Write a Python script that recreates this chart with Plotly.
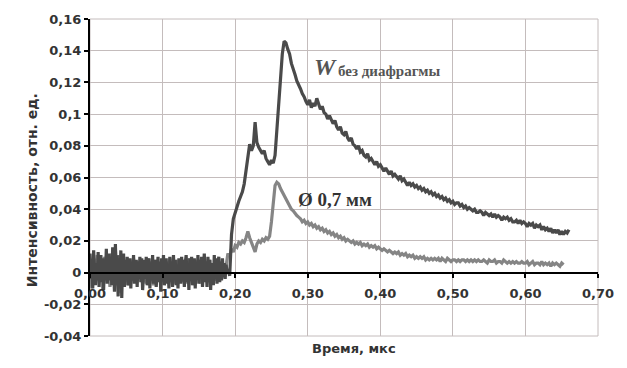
import plotly.graph_objects as go

# sampling steps of the oscilloscope record, µs
STEP_NOISE = 0.00125   # dark-curve baseline part (t < 0.19)
STEP = 0.0025          # everything else
T_SIGNAL = 0.19        # start of the signal part

# W без диафрагмы — baseline noise, t = 0 ... 0.18875 (step 0.00125)
dark_noise = [
    0.012, -0.004, 0.008, -0.010, 0.014, 0.002, -0.008, 0.006,
    -0.003, 0.013, -0.009, 0.005, 0.011, -0.006, 0.009, -0.011,
    0.007, -0.002, 0.015, -0.007, 0.004, 0.012, -0.005, 0.010,
    -0.008, 0.016, 0.003, -0.012, 0.018, -0.004, 0.011, -0.015,
    0.009, -0.006, 0.014, -0.016, 0.006, 0.012, -0.009, 0.008,
    -0.004, 0.010, -0.008, 0.003, 0.009, -0.010, 0.006, -0.002,
    0.011, -0.007, 0.004, 0.008, -0.009, 0.007, -0.003, 0.010,
    -0.006, 0.009, -0.011, 0.005, 0.008, -0.004, 0.010, -0.008,
    0.003, 0.009, -0.010, 0.006, -0.005, 0.011, -0.007, 0.004,
    0.008, -0.009, 0.002, 0.010, -0.006, 0.007, -0.012, 0.009,
    -0.003, 0.011, -0.008, 0.005, 0.009, -0.007, 0.003, -0.010,
    0.010, -0.004, 0.007, -0.009, 0.011, -0.002, 0.008, -0.008,
    0.005, -0.010, 0.009, 0.002, -0.007, 0.010, -0.005, 0.008,
    -0.009, 0.006, 0.011, -0.006, 0.004, -0.011, 0.009, -0.003,
    0.010, -0.008, 0.005, 0.009, -0.010, 0.007, -0.004, 0.011,
    -0.007, 0.008, -0.003, 0.010, -0.009, 0.006, 0.012, -0.006,
    0.004, -0.009, 0.010, -0.005, 0.008, -0.011, 0.006, 0.002,
    -0.008, 0.011, -0.004, 0.009, -0.007, 0.005, 0.010, -0.006,
    0.007, -0.005, 0.009, -0.003, 0.006, -0.004, 0.005, 0.001,
]

# W без диафрагмы — signal, from t = 0.19 (step 0.0025)
dark_signal = [
    0.002, -0.002, 0.024, 0.034, 0.038, 0.042, 0.045, 0.048, 0.051, 0.056,
    0.064, 0.074, 0.081, 0.077, 0.080, 0.095, 0.082, 0.079, 0.077, 0.075,
    0.077, 0.072, 0.070, 0.068, 0.071, 0.069, 0.074, 0.090, 0.108, 0.124,
    0.138, 0.146, 0.145, 0.141, 0.138, 0.132, 0.129, 0.125, 0.121, 0.119,
    0.116, 0.113, 0.111, 0.108, 0.106, 0.109, 0.104, 0.107, 0.105, 0.110,
    0.106, 0.103, 0.105, 0.101, 0.100, 0.097, 0.099, 0.096, 0.094, 0.096,
    0.092, 0.090, 0.092, 0.088, 0.087, 0.089, 0.085, 0.083, 0.085, 0.081,
    0.080, 0.078, 0.080, 0.076, 0.077, 0.074, 0.073, 0.075, 0.071, 0.072,
    0.070, 0.068, 0.070, 0.067, 0.068, 0.066, 0.064, 0.066, 0.064, 0.062,
    0.064, 0.061, 0.062, 0.060, 0.059, 0.061, 0.058, 0.059, 0.057, 0.055,
    0.057, 0.055, 0.056, 0.054, 0.055, 0.053, 0.054, 0.052, 0.053, 0.051,
    0.052, 0.050, 0.051, 0.049, 0.050, 0.048, 0.049, 0.047, 0.048, 0.046,
    0.047, 0.045, 0.046, 0.044,
    0.045, 0.043, 0.044, 0.044, 0.042, 0.043, 0.041, 0.042, 0.040, 0.041,
    0.040, 0.039, 0.040, 0.038, 0.038, 0.039, 0.038, 0.036, 0.038, 0.037,
    0.036, 0.037, 0.035, 0.037, 0.035, 0.036, 0.035, 0.033, 0.035, 0.034,
    0.035, 0.033, 0.034, 0.032, 0.032, 0.033, 0.031, 0.033, 0.031, 0.032,
    0.031, 0.029, 0.031, 0.030, 0.031, 0.028, 0.030, 0.029, 0.030, 0.027,
    0.029, 0.027, 0.028, 0.026, 0.028, 0.025, 0.027, 0.025, 0.027, 0.024,
    0.026, 0.024, 0.026, 0.025, 0.027,
]

# Ø 0,7 мм — whole record from t = 0 (step 0.0025)
light = [
    0.006, -0.010, 0.009, -0.007, 0.011, -0.005, 0.008, -0.011, 0.010, -0.004,
    0.008, -0.009, 0.012, -0.006, 0.014, -0.008, 0.011, -0.013, 0.009, -0.006,
    0.006, -0.008, 0.008, -0.005, 0.009, -0.006, 0.007, -0.004, 0.008, -0.007,
    0.006, -0.007, 0.009, -0.004, 0.007, -0.008, 0.008, -0.005, 0.006, -0.006,
    0.008, -0.006, 0.007, -0.005, 0.009, -0.006, 0.006, -0.007, 0.008, -0.005,
    0.007, -0.006, 0.008, -0.007, 0.009, -0.005, 0.007, -0.006, 0.008, -0.004,
    0.006, -0.007, 0.009, -0.004, 0.007, -0.006, 0.008, -0.004, 0.006, -0.005,
    0.005, -0.003, 0.004, -0.001,
    0.001, 0.004, 0.012, 0.010, 0.015, 0.013, 0.017, 0.016, 0.019, 0.018,
    0.020, 0.019, 0.022, 0.026, 0.022, 0.019, 0.016, 0.013, 0.018, 0.020,
    0.019, 0.021, 0.020, 0.022, 0.021, 0.023, 0.032, 0.046, 0.055, 0.057,
    0.056, 0.053, 0.051, 0.049, 0.046, 0.044, 0.042, 0.040, 0.039, 0.037,
    0.036, 0.035, 0.034, 0.032,
    0.033, 0.031, 0.032, 0.030, 0.031, 0.029, 0.030, 0.028, 0.029, 0.027,
    0.028, 0.026, 0.027, 0.025, 0.026, 0.024, 0.025, 0.023, 0.024, 0.022,
    0.023, 0.021, 0.022, 0.020, 0.021, 0.020, 0.019, 0.020, 0.018, 0.019,
    0.018, 0.019, 0.017, 0.018, 0.017, 0.018, 0.016, 0.017, 0.016, 0.017,
    0.015, 0.016, 0.015, 0.014, 0.015, 0.014, 0.013, 0.014, 0.013, 0.012,
    0.013, 0.012, 0.013, 0.011, 0.012, 0.011, 0.012, 0.010, 0.011, 0.010,
    0.011, 0.009, 0.010, 0.009, 0.010, 0.009, 0.010, 0.008, 0.009, 0.008,
    0.009, 0.008, 0.009,
    0.008, 0.009, 0.007, 0.009, 0.008, 0.007, 0.009, 0.008, 0.007, 0.008,
    0.008, 0.007, 0.008, 0.007, 0.008, 0.008, 0.007, 0.008, 0.007, 0.008,
    0.007, 0.008, 0.007, 0.008, 0.007, 0.007, 0.008, 0.007, 0.006, 0.008,
    0.007, 0.007, 0.008, 0.006, 0.007, 0.007, 0.006, 0.008, 0.007, 0.006,
    0.007, 0.006, 0.007, 0.006, 0.007, 0.006, 0.006, 0.007, 0.006, 0.006,
    0.007, 0.005, 0.006, 0.007, 0.005, 0.006, 0.006, 0.005, 0.007, 0.005,
    0.006, 0.005, 0.006, 0.004, 0.006, 0.005, 0.006, 0.005, 0.004, 0.006,
    0.005,
]

t_dark = ([round(i * STEP_NOISE, 5) for i in range(len(dark_noise))] +
          [round(T_SIGNAL + i * STEP, 5) for i in range(len(dark_signal))])
dark = dark_noise + dark_signal
t_light = [round(i * STEP, 5) for i in range(len(light))]

x_ticks = [0.0, 0.1, 0.2, 0.3, 0.4, 0.5, 0.6, 0.7]
x_labels = ["0,00", "0,10", "0,20", "0,30", "0,40", "0,50", "0,60", "0,70"]
y_ticks = [-0.04, -0.02, 0, 0.02, 0.04, 0.06, 0.08, 0.1, 0.12, 0.14, 0.16]
y_labels = ["-0,04", "-0,02", "0", "0,02", "0,04", "0,06", "0,08", "0,1",
            "0,12", "0,14", "0,16"]

GRID = "#c4bcbc"
TICKFONT = dict(family="DejaVu Sans", size=13, color="#333333", weight="bold")

fig = go.Figure()
fig.add_trace(go.Scatter(x=t_light, y=light, mode="lines",
                         line=dict(color="#858585", width=3.2), name="Ø 0,7 мм"))
fig.add_trace(go.Scatter(x=t_dark, y=dark, mode="lines",
                         line=dict(color="#4a4a4a", width=3.2),
                         name="W без диафрагмы"))

fig.update_layout(
    width=627, height=368,
    margin=dict(l=90, r=29, t=14, b=32),
    paper_bgcolor="white", plot_bgcolor="white",
    showlegend=False,
    xaxis=dict(range=[0, 0.7], tickvals=x_ticks, ticktext=x_labels,
               showgrid=True, gridcolor=GRID, gridwidth=1,
               showline=True, linecolor="black", linewidth=2,
               ticks="outside", ticklen=4, tickwidth=1.5, tickcolor="black",
               anchor="free", position=0.2, zeroline=False,
               tickfont=TICKFONT, ticklabelstandoff=5),
    yaxis=dict(range=[-0.04, 0.16], tickvals=y_ticks, ticktext=y_labels,
               showgrid=True, gridcolor=GRID, gridwidth=1,
               showline=True, linecolor="black", linewidth=2,
               ticks="outside", ticklen=4, tickwidth=1.5, tickcolor="black",
               zeroline=False, tickfont=TICKFONT),
    shapes=[
        dict(type="rect", xref="paper", yref="paper", x0=0, x1=1, y0=0, y1=1,
             line=dict(color=GRID, width=1), layer="below"),
    ],
    annotations=[
        dict(x=0.3248, y=0.1296, xref="x", yref="y", showarrow=False,
             text="<b><i>W</i></b>",
             font=dict(family="Liberation Serif", size=24, color="#555555")),
        dict(x=0.4124, y=0.1275, xref="x", yref="y", showarrow=False,
             text="<b>без диафрагмы</b>",
             font=dict(family="Liberation Serif", size=15, color="#555555")),
        dict(x=0.338, y=0.0463, xref="x", yref="y", showarrow=False,
             text="<b>Ø 0,7 мм</b>",
             font=dict(family="Liberation Serif", size=19, color="#333333")),
        dict(x=-0.134, y=0.4596, xref="paper", yref="paper", showarrow=False,
             textangle=-90, text="<b>Интенсивность, отн. ед.</b>",
             font=dict(family="DejaVu Sans", size=14, color="#333333")),
        dict(x=0.5197, y=-0.0683, xref="paper", yref="paper", showarrow=False,
             text="<b>Время, мкс</b>",
             font=dict(family="DejaVu Sans", size=13, color="#333333")),
    ],
)

fig.write_html("out.html")
